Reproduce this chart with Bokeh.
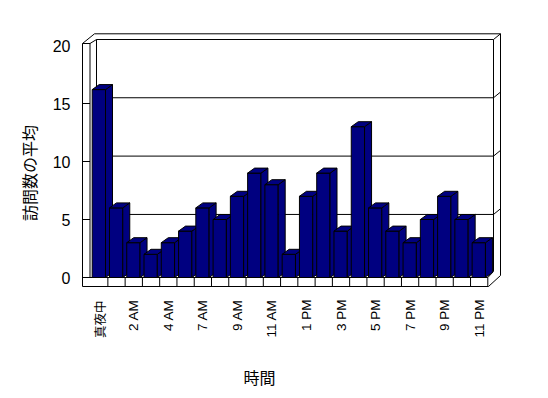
import math
from bokeh.plotting import figure
from bokeh.models import Range1d
from bokeh.core.properties import value
from bokeh.embed import file_html
from bokeh.resources import INLINE

# ---------------- data ----------------
categories = ["真夜中", "1 AM", "2 AM", "3 AM", "4 AM", "5 AM", "7 AM", "8 AM",
              "9 AM", "10 AM", "11 AM", "12 PM", "1 PM", "2 PM", "3 PM", "4 PM",
              "5 PM", "6 PM", "7 PM", "8 PM", "9 PM", "10 PM", "11 PM"]
values = [16.2, 6, 3, 2, 3, 4, 6, 5, 7, 9, 8, 2, 7, 9, 4, 13, 6, 4, 3, 5, 7, 5, 3]
y_ticks = [0, 5, 10, 15, 20]
y_title = "訪問数の平均"
x_title = "時間"

# ---------------- geometry (reference pixels) ----------------
CW = 17.27   # px per category
K = 11.6     # px per value unit (front plane)
X0 = 90.1    # px of first category's left edge
Y0 = 277.0   # px of value 0 on the front plane

def X(p):
    return (p - X0) / CW - 0.5

def Y(p):
    return (Y0 - p) / K

W, H = 540, 390

p = figure(width=W, height=H, output_backend="svg", toolbar_location=None,
           x_range=Range1d(X(0), X(W)), y_range=Range1d(Y(H), Y(0)),
           x_axis_location=None, y_axis_location=None,
           min_border_left=0, min_border_right=0,
           min_border_top=0, min_border_bottom=0)
p.outline_line_color = None
p.xgrid.visible = False
p.ygrid.visible = False
p.background_fill_color = "white"
p.border_fill_color = "white"

# ---------------- frame decoration ----------------
xs, ys = [], []
def seg(pts):
    xs.append([X(a) for a, b in pts])
    ys.append([Y(b) for a, b in pts])

seg([(82, 286), (82, 43), (89.5, 43), (89.5, 277)])
seg([(82, 43), (94, 33.3), (500, 33.3), (500, 275), (488, 286), (82, 286)])
seg([(89.5, 43), (96, 39), (493, 39), (500, 33.3)])
seg([(493, 39), (493, 271), (487.3, 277), (82, 277)])
seg([(96, 39), (96, 272.3)])
for i in range(1, len(categories) + 1):
    xe = X0 + i * CW
    seg([(xe, 277), (xe, 286)])
for t in y_ticks[1:-1]:
    yb = 272.3 - 11.67 * t
    seg([(96, yb), (493, yb), (500, yb - 5.7)])
    yf = Y0 - K * t
    seg([(82, yf), (89.5, yf)])
p.multi_line(xs, ys, line_color="black", line_width=1)

# ---------------- 3D bars ----------------
ddx = 7.0 / CW
ddy = 5.0 / K
bl = (91.7 - X0) / CW - 0.5
br = (105.0 - X0) / CW - 0.5
bx, by = [], []
for i, v in enumerate(values):
    xl, xr = i + bl, i + br
    bx.append([xl, xr, xr, xl]); by.append([0, 0, v, v])
    bx.append([xr, xr + ddx, xr + ddx, xr]); by.append([0, ddy, v + ddy, v])
    bx.append([xl, xr, xr + ddx, xl + ddx]); by.append([v, v, v + ddy, v + ddy])
p.patches(bx, by, fill_color="#000080", line_color="black", line_width=1)

# ---------------- tick labels ----------------
p.text(x=[X(70)] * len(y_ticks), y=y_ticks, text=[str(t) for t in y_ticks],
       text_align="right", text_baseline="middle",
       text_font=value("Liberation Sans"), text_font_size="16px",
       text_color="black")

shown = list(range(0, len(categories), 2))
latin = [i for i in shown if categories[i].isascii()]
cjk = [i for i in shown if not categories[i].isascii()]
p.text(x=latin, y=[Y(299)] * len(latin), text=[categories[i] for i in latin],
       angle=math.pi / 2, text_align="right", text_baseline="middle",
       text_font=value("Liberation Sans"), text_font_size="13.5px",
       text_color="black")
p.text(x=cjk, y=[Y(300)] * len(cjk), text=[categories[i] for i in cjk],
       angle=math.pi / 2, text_align="right", text_baseline="middle",
       text_font=value("Noto Sans CJK JP"), text_font_size="12.5px",
       text_color="black")

# ---------------- titles ----------------
p.text(x=[X(28)], y=[Y(172.5)], text=[y_title], angle=math.pi / 2,
       text_align="center", text_baseline="middle",
       text_font=value("Noto Sans CJK JP"), text_font_size="16px",
       text_color="black")
p.text(x=[X(259)], y=[Y(376)], text=[x_title],
       text_align="center", text_baseline="middle",
       text_font=value("Noto Sans CJK JP"), text_font_size="16px",
       text_color="black")

open("out.html", "w").write(file_html(p, INLINE))
